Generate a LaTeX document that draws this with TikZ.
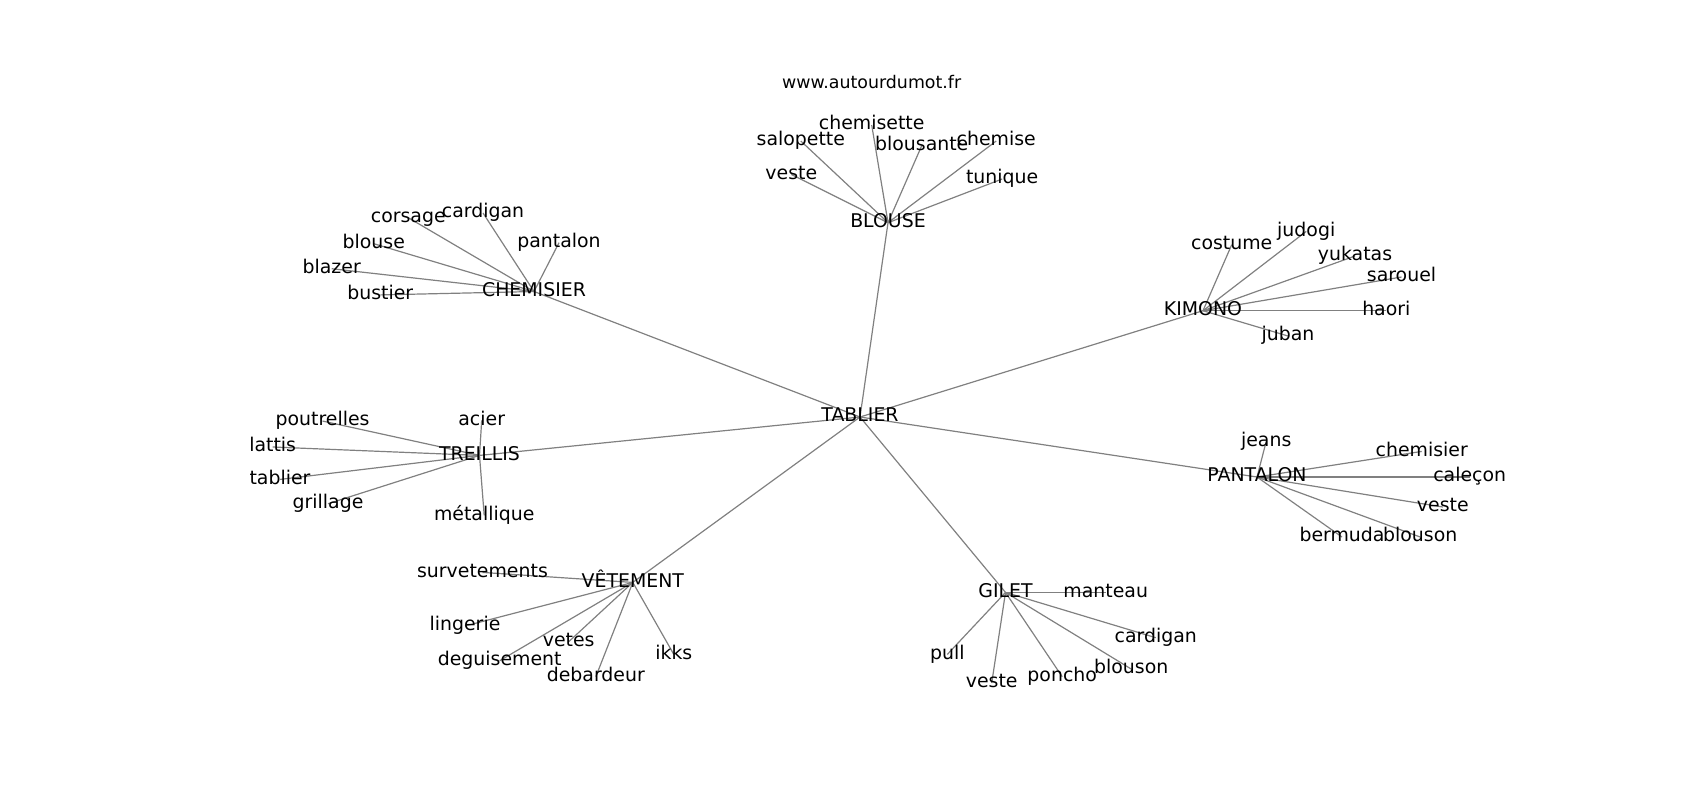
\documentclass[tikz,border=0pt]{standalone}
\usepackage{fontspec}
\setmainfont{DejaVu Sans}
\usetikzlibrary{backgrounds}
\tikzset{
  lbl/.style={inner sep=0pt, font=\fontsize{9.45}{11}\selectfont, text height=7.2pt, text depth=2.3pt},
  edge/.style={draw=gray, line width=0.6pt}
}
\begin{document}
\begin{tikzpicture}[x=0.5pt,y=-0.5pt]
\useasboundingbox (0,0) rectangle (1700,800);
\node[inner sep=0pt, font=\fontsize{8.7}{10}\selectfont, text height=6.6pt, text depth=2.1pt] (site) at (871.7,83.7){www.autourdumot.fr};
% centre and hubs
\node[lbl] (tablier) at (860,417){TABLIER};
\node[lbl] (blouse) at (888,222.7){BLOUSE};
\node[lbl] (chemisier) at (534,291.5){CHEMISIER};
\node[lbl] (kimono) at (1203,310.7){KIMONO};
\node[lbl] (treillis) at (479.5,455.4){TREILLIS};
\node[lbl] (pantalon) at (1257,477){PANTALON};
\node[lbl] (vetement) at (632.8,582.4){VÊTEMENT};
\node[lbl] (gilet) at (1005.5,592.4){GILET};
% BLOUSE
\node[lbl] (bl1) at (871.7,125){chemisette};
\node[lbl] (bl2) at (800.8,141){salopette};
\node[lbl] (bl3) at (921.7,145.7){blousante};
\node[lbl] (bl4) at (996.2,141){chemise};
\node[lbl] (bl5) at (791.3,174.4){veste};
\node[lbl] (bl6) at (1002.1,179){tunique};
% CHEMISIER
\node[lbl] (ch1) at (408.3,217.7){corsage};
\node[lbl] (ch2) at (483,213){cardigan};
\node[lbl] (ch3) at (373.8,243.7){blouse};
\node[lbl] (ch4) at (559,242.7){pantalon};
\node[lbl] (ch5) at (331.7,268.7){blazer};
\node[lbl] (ch6) at (380.3,294.9){bustier};
% KIMONO
\node[lbl] (ki1) at (1231.7,244.7){costume};
\node[lbl] (ki2) at (1306.2,231.4){judogi};
\node[lbl] (ki3) at (1355,256){yukatas};
\node[lbl] (ki4) at (1401.5,277){sarouel};
\node[lbl] (ki5) at (1386.3,310.7){haori};
\node[lbl] (ki6) at (1288,336){juban};
% TREILLIS
\node[lbl] (tr1) at (322.5,421){poutrelles};
\node[lbl] (tr2) at (481.7,420.4){acier};
\node[lbl] (tr3) at (272.7,447){lattis};
\node[lbl] (tr4) at (280,479.4){tablier};
\node[lbl] (tr5) at (328,503.7){grillage};
\node[lbl] (tr6) at (484.2,515.4){métallique};
% PANTALON
\node[lbl] (pa1) at (1266.2,441.4){jeans};
\node[lbl] (pa2) at (1421.7,451.4){chemisier};
\node[lbl] (pa3) at (1469.7,477){caleçon};
\node[lbl] (pa4) at (1442.8,507){veste};
\node[lbl] (pa5) at (1342,537){bermuda};
\node[lbl] (pa6) at (1420.2,537){blouson};
% VETEMENT
\node[lbl] (ve1) at (482.5,572.4){survetements};
\node[lbl] (ve2) at (465,626){lingerie};
\node[lbl] (ve3) at (568.7,641.7){vetes};
\node[lbl] (ve4) at (499.7,660.7){deguisement};
\node[lbl] (ve5) at (595.8,676.7){debardeur};
\node[lbl] (ve6) at (673.8,654.4){ikks};
% GILET
\node[lbl] (gi1) at (1105.7,592.4){manteau};
\node[lbl] (gi2) at (1155.8,637.7){cardigan};
\node[lbl] (gi3) at (947.3,654.4){pull};
\node[lbl] (gi4) at (991.7,683){veste};
\node[lbl] (gi5) at (1062.2,676.7){poncho};
\node[lbl] (gi6) at (1131.2,669){blouson};
\begin{scope}[on background layer]
\draw[edge](tablier.center) -- (blouse.center);
\draw[edge](tablier.center) -- (chemisier.center);
\draw[edge](tablier.center) -- (kimono.center);
\draw[edge](tablier.center) -- (treillis.center);
\draw[edge](tablier.center) -- (pantalon.center);
\draw[edge](tablier.center) -- (vetement.center);
\draw[edge](tablier.center) -- (gilet.center);
\draw[edge](blouse.center) -- (bl1.center);
\draw[edge](blouse.center) -- (bl2.center);
\draw[edge](blouse.center) -- (bl3.center);
\draw[edge](blouse.center) -- (bl4.center);
\draw[edge](blouse.center) -- (bl5.center);
\draw[edge](blouse.center) -- (bl6.center);
\draw[edge](chemisier.center) -- (ch1.center);
\draw[edge](chemisier.center) -- (ch2.center);
\draw[edge](chemisier.center) -- (ch3.center);
\draw[edge](chemisier.center) -- (ch4.center);
\draw[edge](chemisier.center) -- (ch5.center);
\draw[edge](chemisier.center) -- (ch6.center);
\draw[edge](kimono.center) -- (ki1.center);
\draw[edge](kimono.center) -- (ki2.center);
\draw[edge](kimono.center) -- (ki3.center);
\draw[edge](kimono.center) -- (ki4.center);
\draw[edge](kimono.center) -- (ki5.center);
\draw[edge](kimono.center) -- (ki6.center);
\draw[edge](treillis.center) -- (tr1.center);
\draw[edge](treillis.center) -- (tr2.center);
\draw[edge](treillis.center) -- (tr3.center);
\draw[edge](treillis.center) -- (tr4.center);
\draw[edge](treillis.center) -- (tr5.center);
\draw[edge](treillis.center) -- (tr6.center);
\draw[edge](pantalon.center) -- (pa1.center);
\draw[edge](pantalon.center) -- (pa2.center);
\draw[edge](pantalon.center) -- (pa3.center);
\draw[edge](pantalon.center) -- (pa4.center);
\draw[edge](pantalon.center) -- (pa5.center);
\draw[edge](pantalon.center) -- (pa6.center);
\draw[edge](vetement.center) -- (ve1.center);
\draw[edge](vetement.center) -- (ve2.center);
\draw[edge](vetement.center) -- (ve3.center);
\draw[edge](vetement.center) -- (ve4.center);
\draw[edge](vetement.center) -- (ve5.center);
\draw[edge](vetement.center) -- (ve6.center);
\draw[edge](gilet.center) -- (gi1.center);
\draw[edge](gilet.center) -- (gi2.center);
\draw[edge](gilet.center) -- (gi3.center);
\draw[edge](gilet.center) -- (gi4.center);
\draw[edge](gilet.center) -- (gi5.center);
\draw[edge](gilet.center) -- (gi6.center);
\end{scope}
\end{tikzpicture}
\end{document}
